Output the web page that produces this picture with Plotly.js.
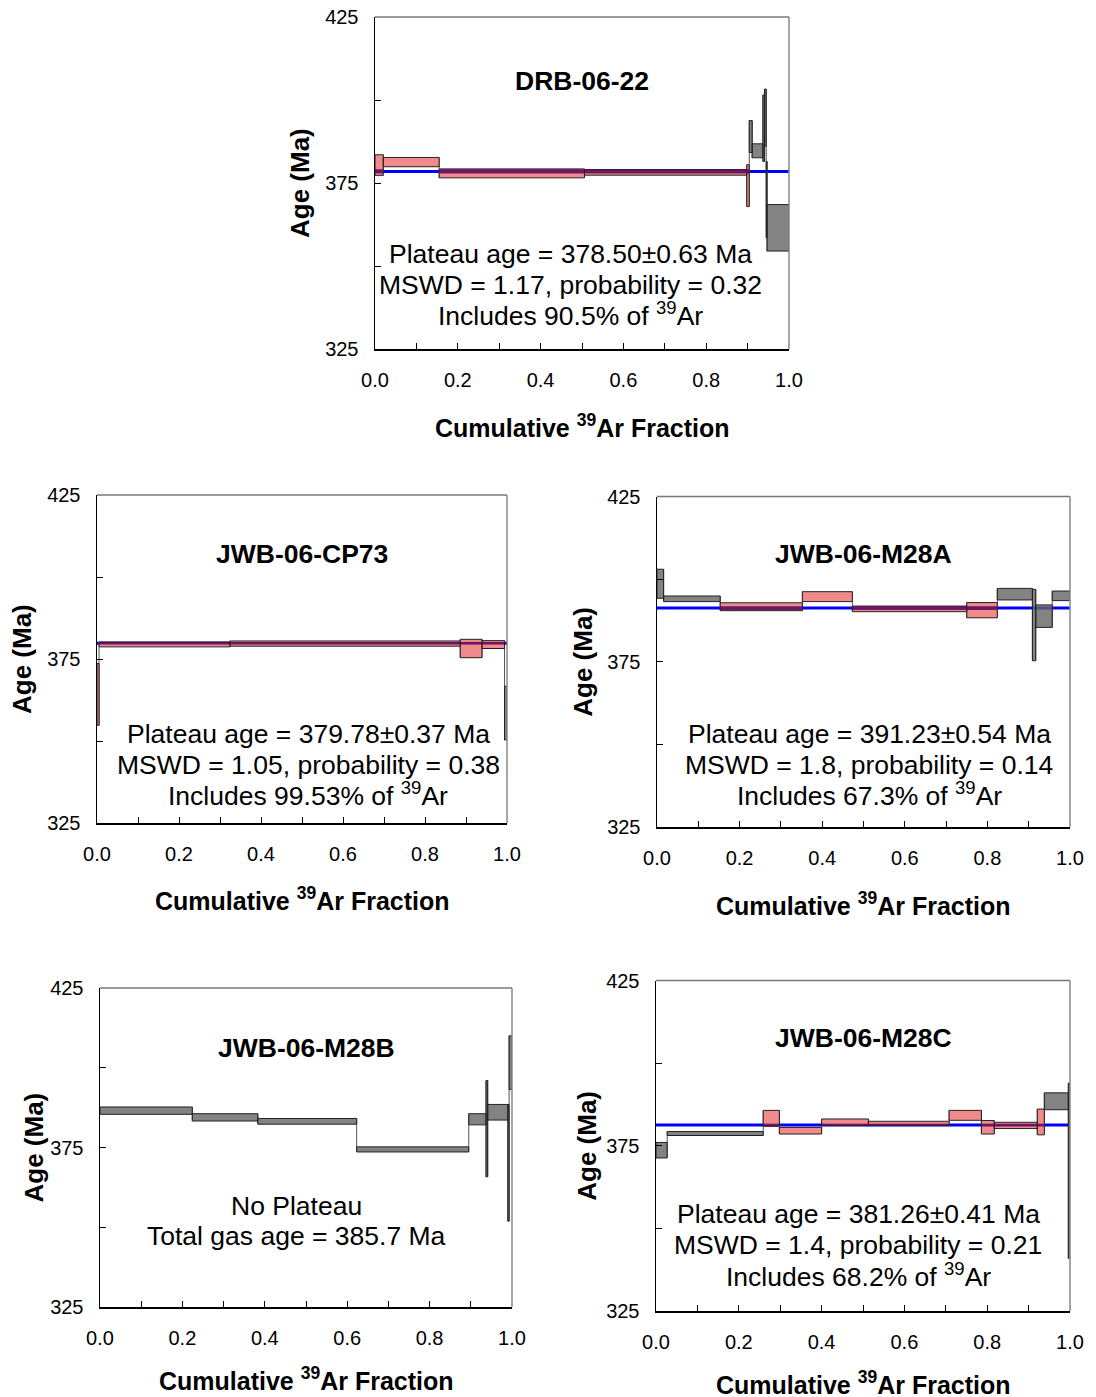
<!DOCTYPE html>
<html><head><meta charset="utf-8">
<script src="https://cdn.plot.ly/plotly-3.0.1.min.js"></script>
<style>html,body{margin:0;padding:0;background:#fff}</style>
</head><body><div id="chart" style="width:1096px;height:1397px"></div>
<script>
// ---------- DATA ----------
// cumulative 39Ar fraction boundaries (n+1), step ages (Ma), half-widths (Ma), plateau inclusion
const drbCum  = [0, 0.020, 0.155, 0.506, 0.898, 0.904, 0.911, 0.937, 0.941, 0.945, 0.947, 1.0];
const drbAge  = [380.4, 381.3, 377.9, 378.2, 374.2, 389.0, 384.7, 391.5, 394.7, 370.0, 361.5];
const drbErr  = [3.1, 1.4, 1.35, 0.85, 6.3, 4.8, 2.1, 10.0, 8.6, 11.5, 7.0];
const drbIncl = [1, 1, 1, 1, 1, 0, 0, 0, 0, 0, 0];

const cp73Cum  = [0, 0.005, 0.324, 0.886, 0.939, 0.994, 1.0];
const cp73Age  = [364.2, 379.45, 379.7, 378.2, 379.4, 358.5];
const cp73Err  = [9.4, 0.75, 0.8, 2.8, 1.2, 8.2];
const cp73Incl = [1, 1, 1, 1, 1, 0];

const m28aCum  = [0, 0.016, 0.153, 0.352, 0.473, 0.750, 0.824, 0.909, 0.917, 0.957, 1.0];
const m28aAge  = [398.6, 394.05, 391.65, 394.7, 391.0, 390.6, 395.45, 386.1, 388.8, 394.95];
const m28aErr  = [4.4, 0.85, 1.2, 1.5, 0.85, 2.3, 1.75, 10.8, 3.4, 1.45];
const m28aIncl = [0, 0, 1, 1, 1, 1, 0, 0, 0, 0];

const m28bCum  = [0, 0.224, 0.383, 0.623, 0.895, 0.937, 0.941, 0.990, 0.993, 1.0];
const m28bAge  = [386.55, 384.45, 383.2, 374.4, 383.85, 380.9, 386.05, 370.2, 401.6];
const m28bErr  = [1.15, 1.15, 0.9, 0.8, 1.75, 15.1, 2.45, 18.3, 8.4];
const m28bIncl = [0, 0, 0, 0, 0, 0, 0, 0, 0];

const m28cCum  = [0, 0.027, 0.259, 0.298, 0.400, 0.513, 0.708, 0.786, 0.817, 0.921, 0.938, 0.996, 1.0];
const m28cAge  = [373.65, 378.7, 383.3, 379.55, 382.1, 381.75, 384.2, 380.6, 381.15, 382.2, 388.45, 367.45];
const m28cErr  = [2.35, 0.6, 2.4, 1.0, 1.0, 0.65, 1.5, 2.05, 0.95, 3.9, 2.55, 26.5];
const m28cIncl = [0, 0, 1, 1, 1, 1, 1, 1, 1, 1, 0, 0];

const sampleNames = ["DRB-06-22", "JWB-06-CP73", "JWB-06-M28A", "JWB-06-M28B", "JWB-06-M28C"];
const plateauAge = [378.50, 379.78, 391.23, null, 381.26];
const plateauErr = [0.63, 0.37, 0.54, null, 0.41];
const infoLines = [
  ["Plateau age = 378.50±0.63 Ma", "MSWD = 1.17, probability = 0.32", "Includes 90.5% of <sup>39</sup>Ar"],
  ["Plateau age = 379.78±0.37 Ma", "MSWD = 1.05, probability = 0.38", "Includes 99.53% of <sup>39</sup>Ar"],
  ["Plateau age = 391.23±0.54 Ma", "MSWD = 1.8, probability = 0.14", "Includes 67.3% of <sup>39</sup>Ar"],
  ["No Plateau", "Total gas age = 385.7 Ma"],
  ["Plateau age = 381.26±0.41 Ma", "MSWD = 1.4, probability = 0.21", "Includes 68.2% of <sup>39</sup>Ar"]
];
const xTickVals = [0, 0.2, 0.4, 0.6, 0.8, 1.0];
const xTickText = ["0.0", "0.2", "0.4", "0.6", "0.8", "1.0"];
const yTickVals = [325, 375, 425];
const yTickText = ["325", "375", "425"];
const xTitle = "Cumulative <sup>39</sup>Ar Fraction";
const yTitle = "Age (Ma)";

// ---------- LAYOUT (pixel geometry) ----------
const W = 1096, H = 1397;
const panels = [
  {cum: drbCum,  age: drbAge,  err: drbErr,  incl: drbIncl,  L: 375, R: 789,  T: 17,    B: 349,
   titleY: 81,   infoX: 570, infoY: [254, 285, 314], xtY: 426,  ytX: 300},
  {cum: cp73Cum, age: cp73Age, err: cp73Err, incl: cp73Incl, L: 97,  R: 507,  T: 495,   B: 823,
   titleY: 554,  infoX: 308, infoY: [734, 765, 794], xtY: 899,  ytX: 22},
  {cum: m28aCum, age: m28aAge, err: m28aErr, incl: m28aIncl, L: 657, R: 1070, T: 496.5, B: 827,
   titleY: 554,  infoX: 869, infoY: [734, 765, 794], xtY: 904,  ytX: 583},
  {cum: m28bCum, age: m28bAge, err: m28bErr, incl: m28bIncl, L: 100, R: 512,  T: 988,   B: 1307,
   titleY: 1048, infoX: 296, infoY: [1206, 1236],    xtY: 1379, ytX: 33},
  {cum: m28cCum, age: m28cAge, err: m28cErr, incl: m28cIncl, L: 656, R: 1070, T: 980.5, B: 1311,
   titleY: 1038, infoX: 858, infoY: [1214, 1245, 1275], xtY: 1383, ytX: 587}
];

const FONT = 'Arial, "Liberation Sans", sans-serif';
const px = x => x / W;
const py = y => 1 - y / H;

const traces = [];
const layout = {
  width: W, height: H, margin: {l: 0, r: 0, t: 0, b: 0},
  paper_bgcolor: '#fff', plot_bgcolor: '#fff', showlegend: false,
  font: {family: FONT, color: '#000'},
  annotations: [], shapes: []
};

panels.forEach((p, k) => {
  const i = k + 1;
  const xa = 'x' + (i === 1 ? '' : i), ya = 'y' + (i === 1 ? '' : i);
  const xk = 'xaxis' + (i === 1 ? '' : i), yk = 'yaxis' + (i === 1 ? '' : i);
  layout[xk] = {
    domain: [px(p.L), px(p.R)], anchor: ya, range: [0, 1], fixedrange: true,
    showgrid: false, zeroline: false, showline: true, linecolor: '#000', linewidth: 1.5,
    ticks: 'inside', ticklen: 6, tickwidth: 1, tickcolor: '#000',
    tickmode: 'array', tickvals: xTickVals, ticktext: xTickText,
    minor: {dtick: 0.1, tick0: 0, ticks: 'inside', ticklen: 6, tickwidth: 1, tickcolor: '#000', showgrid: false},
    tickfont: {family: FONT, size: 20, color: '#000'}, ticklabelstandoff: 12
  };
  layout[yk] = {
    domain: [py(p.B), py(p.T)], anchor: xa, range: [325, 425], fixedrange: true,
    showgrid: false, zeroline: false, showline: true, linecolor: '#000', linewidth: 1.5,
    ticks: 'inside', ticklen: 6, tickwidth: 1, tickcolor: '#000',
    tickmode: 'array', tickvals: yTickVals, ticktext: yTickText,
    minor: {dtick: 25, tick0: 325, ticks: 'inside', ticklen: 6, tickwidth: 1, tickcolor: '#000', showgrid: false},
    tickfont: {family: FONT, size: 20, color: '#000'}, ticklabelstandoff: 11
  };
  // top and right frame (grey)
  layout.shapes.push({type: 'line', xref: xa + ' domain', yref: ya + ' domain', x0: 0, x1: 1, y0: 1, y1: 1,
    line: {color: '#777', width: 1.5}});
  layout.shapes.push({type: 'line', xref: xa + ' domain', yref: ya + ' domain', x0: 1, x1: 1, y0: 0, y1: 1,
    line: {color: '#888', width: 1.5}});

  const pa = plateauAge[k], pe = plateauErr[k];
  if (pa !== null) {
    traces.push({type: 'scatter', mode: 'lines', x: [0, 1], y: [pa, pa], xaxis: xa, yaxis: ya,
      line: {color: '#0000ff', width: 3}, hoverinfo: 'skip'});
  }
  const gx = [], gy = [], rx = [], ry = [], bx = [], by = [], cx = [], cy = [];
  const n = p.age.length;
  for (let s = 0; s < n; s++) {
    const x0 = p.cum[s], x1 = p.cum[s + 1];
    const lo = p.age[s] - p.err[s], hi = p.age[s] + p.err[s];
    const X = p.incl[s] ? rx : gx, Y = p.incl[s] ? ry : gy;
    X.push(x0, x1, x1, x0, x0, null);
    Y.push(lo, lo, hi, hi, lo, null);
    if (p.incl[s] && pa !== null) {
      const b0 = Math.max(lo, pa - pe), b1 = Math.min(hi, pa + pe);
      if (b1 > b0) {
        bx.push(x0, x1, x1, x0, x0, null);
        by.push(b0, b0, b1, b1, b0, null);
      }
    }
    if (s < n - 1) {
      const lo2 = p.age[s + 1] - p.err[s + 1], hi2 = p.age[s + 1] + p.err[s + 1];
      cx.push(x1, x1, null);
      cy.push(Math.min(lo, lo2), Math.max(hi, hi2), null);
    }
  }
  traces.push({type: 'scatter', mode: 'lines', x: cx, y: cy, xaxis: xa, yaxis: ya,
    line: {color: '#555', width: 1}, hoverinfo: 'skip'});
  if (gx.length) traces.push({type: 'scatter', mode: 'lines', x: gx, y: gy, xaxis: xa, yaxis: ya,
    fill: 'toself', fillcolor: 'rgba(100,100,100,0.8)', line: {color: '#222', width: 1}, hoverinfo: 'skip'});
  if (rx.length) traces.push({type: 'scatter', mode: 'lines', x: rx, y: ry, xaxis: xa, yaxis: ya,
    fill: 'toself', fillcolor: 'rgba(240,128,128,0.92)', line: {color: '#222', width: 1}, hoverinfo: 'skip'});
  if (bx.length) traces.push({type: 'scatter', mode: 'lines', x: bx, y: by, xaxis: xa, yaxis: ya,
    fill: 'toself', fillcolor: 'rgba(80,0,90,0.8)', line: {width: 0}, hoverinfo: 'skip'});

  const A = layout.annotations;
  A.push({xref: 'paper', yref: 'paper', x: px((p.L + p.R) / 2), y: py(p.titleY), text: sampleNames[k],
    showarrow: false, xanchor: 'center', yanchor: 'middle', font: {family: FONT, size: 26.5, weight: 'bold'}});
  infoLines[k].forEach((t, j) => {
    A.push({xref: 'paper', yref: 'paper', x: px(p.infoX), y: py(p.infoY[j]), text: t,
      showarrow: false, xanchor: 'center', yanchor: 'middle', font: {family: FONT, size: 26.5}});
  });
  A.push({xref: 'paper', yref: 'paper', x: px((p.L + p.R) / 2), y: py(p.xtY), text: xTitle,
    showarrow: false, xanchor: 'center', yanchor: 'middle', font: {family: FONT, size: 25, weight: 'bold'}});
  A.push({xref: 'paper', yref: 'paper', x: px(p.ytX), y: py((p.T + p.B) / 2), text: yTitle, textangle: -90,
    showarrow: false, xanchor: 'center', yanchor: 'middle', font: {family: FONT, size: 26, weight: 'bold'}});
});

Plotly.newPlot('chart', traces, layout, {staticPlot: true, displayModeBar: false});
</script></body></html>
